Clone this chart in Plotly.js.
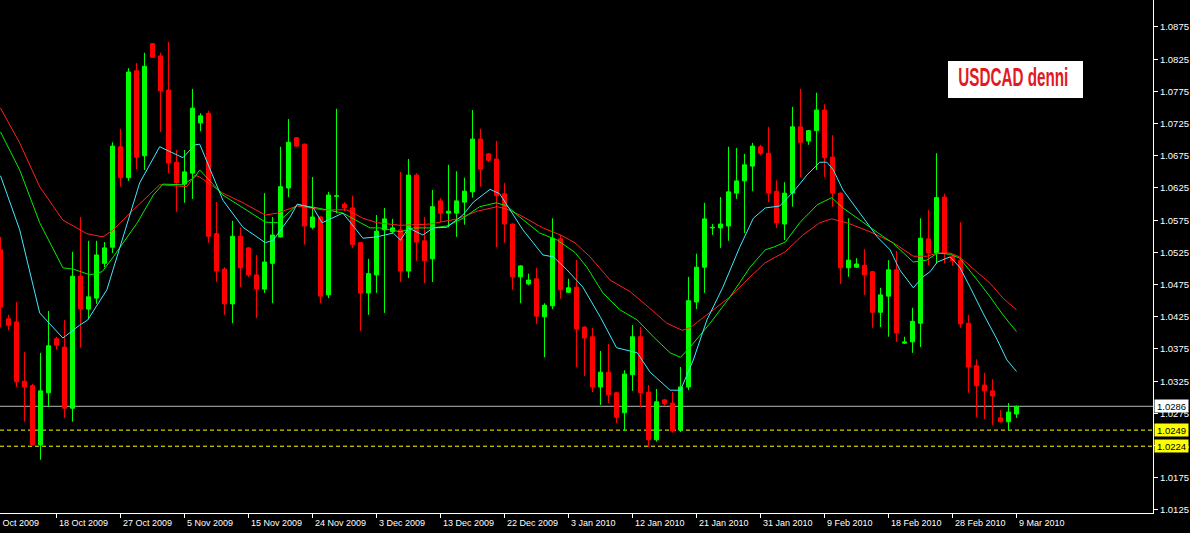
<!DOCTYPE html>
<html>
<head>
<meta charset="utf-8">
<script src="https://cdn.plot.ly/plotly-3.0.1.min.js"></script>
<style>
html,body{margin:0;padding:0;background:#000;}
#chart{width:1190px;height:533px;}
</style>
</head>
<body>
<div id="chart"></div>
<script>
// ---- Daily USDCAD candles (bar index 0..127) ----
const openArr = [1.0529,1.0422,1.0417,1.0325,1.0318,1.0226,1.0307,1.0391,1.0378,1.0283,
1.0488,1.0437,1.0454,1.0508,1.0533,1.0689,1.0641,1.0807,1.0675,1.0849,
1.0830,1.0777,1.0665,1.0631,1.0648,1.0726,1.0741,1.0554,1.0499,1.0445,
1.0550,1.0532,1.0490,1.0468,1.0508,1.0549,1.0625,1.0703,1.0693,1.0564,
1.0580,1.0459,1.0612,1.0600,1.0594,1.0540,1.0462,1.0490,1.0560,1.0557,
1.0560,1.0496,1.0645,1.0543,1.0515,1.0605,1.0586,1.0586,1.0603,1.0619,
1.0701,1.0678,1.0670,1.0616,1.0569,1.0487,1.0476,1.0484,1.0425,1.0442,
1.0546,1.0463,1.0471,1.0409,1.0394,1.0316,1.0339,1.0307,1.0276,1.0335,
1.0394,1.0308,1.0234,1.0296,1.0291,1.0249,1.0316,1.0448,1.0502,1.0563,
1.0563,1.0566,1.0617,1.0636,1.0659,1.0689,1.0679,1.0620,1.0569,1.0617,
1.0720,1.0698,1.0714,1.0746,1.0673,1.0617,1.0501,1.0502,1.0505,1.0495,
1.0432,1.0457,1.0498,1.0384,1.0386,1.0415,1.0546,1.0524,1.0611,1.0519,
1.0513,1.0415,1.0349,1.0319,1.0310,1.0268,1.0262,1.0274];
const highArr = [1.0549,1.0428,1.0448,1.0370,1.0321,1.0369,1.0434,1.0394,1.0420,1.0526,
1.0580,1.0543,1.0543,1.0541,1.0696,1.0717,1.0811,1.0819,1.0835,1.0850,
1.0835,1.0852,1.0684,1.0684,1.0779,1.0741,1.0745,1.0603,1.0502,1.0574,
1.0564,1.0533,1.0521,1.0617,1.0580,1.0689,1.0732,1.0704,1.0694,1.0642,
1.0581,1.0619,1.0748,1.0603,1.0613,1.0541,1.0515,1.0583,1.0594,1.0577,
1.0650,1.0670,1.0648,1.0580,1.0622,1.0609,1.0661,1.0651,1.0641,1.0746,
1.0717,1.0679,1.0698,1.0633,1.0570,1.0505,1.0492,1.0501,1.0446,1.0578,
1.0552,1.0484,1.0513,1.0410,1.0408,1.0372,1.0383,1.0308,1.0342,1.0412,
1.0409,1.0319,1.0313,1.0297,1.0308,1.0347,1.0487,1.0523,1.0602,1.0569,
1.0611,1.0689,1.0687,1.0678,1.0695,1.0692,1.0720,1.0637,1.0634,1.0751,
1.0779,1.0715,1.0773,1.0755,1.0707,1.0618,1.0578,1.0516,1.0530,1.0496,
1.0470,1.0513,1.0527,1.0394,1.0439,1.0578,1.0591,1.0679,1.0616,1.0520,
1.0572,1.0428,1.0359,1.0338,1.0328,1.0280,1.0291,1.0287];
const lowArr = [1.0409,1.0404,1.0316,1.0262,1.0225,1.0203,1.0285,1.0374,1.0268,1.0262,
1.0377,1.0422,1.0445,1.0502,1.0524,1.0627,1.0636,1.0654,1.0653,1.0827,
1.0712,1.0648,1.0588,1.0602,1.0608,1.0713,1.0540,1.0479,1.0428,1.0415,
1.0471,1.0487,1.0423,1.0462,1.0446,1.0548,1.0611,1.0689,1.0537,1.0561,
1.0446,1.0454,1.0586,1.0589,1.0532,1.0403,1.0428,1.0462,1.0431,1.0555,
1.0479,1.0485,1.0512,1.0477,1.0479,1.0572,1.0564,1.0549,1.0568,1.0610,
1.0627,1.0665,1.0533,1.0540,1.0467,1.0446,1.0474,1.0414,1.0362,1.0437,
1.0453,1.0462,1.0347,1.0333,1.0308,1.0288,1.0291,1.0260,1.0248,1.0310,
1.0285,1.0223,1.0231,1.0287,1.0245,1.0246,1.0311,1.0437,1.0462,1.0552,
1.0532,1.0543,1.0608,1.0555,1.0620,1.0676,1.0603,1.0563,1.0544,1.0596,
1.0642,1.0692,1.0653,1.0642,1.0596,1.0476,1.0487,1.0501,1.0459,1.0408,
1.0409,1.0394,1.0386,1.0383,1.0369,1.0378,1.0505,1.0508,1.0508,1.0504,
1.0408,1.0307,1.0269,1.0266,1.0257,1.0261,1.0249,1.0268];
const closeArr = [1.0440,1.0412,1.0324,1.0316,1.0226,1.0310,1.0380,1.0381,1.0283,1.0488,
1.0437,1.0456,1.0521,1.0532,1.0690,1.0641,1.0805,1.0673,1.0814,1.0828,
1.0776,1.0664,1.0633,1.0650,1.0749,1.0737,1.0550,1.0496,1.0445,1.0550,
1.0501,1.0490,1.0468,1.0510,1.0552,1.0627,1.0696,1.0690,1.0566,1.0580,
1.0457,1.0614,1.0613,1.0594,1.0537,1.0462,1.0492,1.0558,1.0577,1.0563,
1.0496,1.0645,1.0541,1.0512,1.0596,1.0586,1.0589,1.0605,1.0620,1.0701,
1.0654,1.0668,1.0613,1.0569,1.0487,1.0504,1.0482,1.0426,1.0443,1.0547,
1.0467,1.0470,1.0406,1.0392,1.0316,1.0339,1.0304,1.0269,1.0336,1.0394,
1.0307,1.0234,1.0293,1.0290,1.0248,1.0316,1.0450,1.0502,1.0577,1.0564,
1.0569,1.0619,1.0636,1.0661,1.0690,1.0679,1.0617,1.0571,1.0617,1.0720,
1.0696,1.0714,1.0746,1.0672,1.0617,1.0501,1.0513,1.0507,1.0490,1.0432,
1.0459,1.0498,1.0400,1.0386,1.0418,1.0547,1.0524,1.0610,1.0524,1.0512,
1.0414,1.0347,1.0318,1.0310,1.0302,1.0262,1.0277,1.0286];

// ---- Moving averages (fast = aqua, medium = lime, slow = red) ----
const cyanBars = [0,2.4,4.9,7.8,9.9,10.9,13.3,15.3,17.4,19.9,20.8,22.8,24.3,24.9,27.8,30.3,33.1,34.1,36.2,37.1,
39.1,40.2,42.8,45.3,47,49.1,50,51,52.8,54.1,55.8,57.8,59.1,61.2,62.4,63.7,65.3,67.8,69.1,70.8,
72.8,75,77,79.6,81.2,83.7,85,86.6,88.3,90.3,92.4,94.1,95.6,97.4,99.1,100.8,102.4,103.3,104.1,105.3,
107.4,109.6,111.2,112.4,114.1,115.3,116.2,117.1,118.7,119.9,121.2,122.8,124.6,125.8,127];
const cyanVals = [1.0644,1.0560,1.0431,1.0392,1.0412,1.0420,1.0467,1.0549,1.0633,1.0689,1.0684,1.0672,1.0692,1.0693,1.0606,1.0564,1.0540,1.0544,1.0580,1.0600,
1.0594,1.0571,1.0586,1.0547,1.0549,1.0555,1.0544,1.0563,1.0552,1.0563,1.0564,1.0583,1.0603,1.0623,1.0616,1.0591,1.0560,1.0521,1.0518,1.0498,
1.0471,1.0424,1.0377,1.0369,1.0339,1.0311,1.0311,1.0358,1.0420,1.0471,1.0533,1.0578,1.0594,1.0597,1.0619,1.0645,1.0665,1.0665,1.0653,1.0622,
1.0586,1.0549,1.0529,1.0498,1.0470,1.0487,1.0495,1.0510,1.0518,1.0502,1.0471,1.0431,1.0389,1.0358,1.0340];
const greenBars = [0,2.4,4.9,7.8,9.1,11.2,12.7,14.1,17.1,19.1,20.3,22.8,24.3,24.9,27.8,30.3,33.1,34.6,37.1,39.6,
42.8,45,46.2,47.4,50,51.6,54,55.8,57.8,59.9,62,63.3,64.9,67.4,69.6,71.8,73.3,75.3,77.4,79.6,
81.6,83.7,85,86.2,88.7,91.2,93.7,95.6,96.6,98.1,99.9,102.1,103.9,105.3,107.4,109.6,111.6,114.1,115.8,117.1,
118.7,119.9,122.1,123.7,125.3,127];
const greenVals = [1.0712,1.0653,1.0571,1.0501,1.0499,1.0490,1.0495,1.0518,1.0571,1.0614,1.0631,1.0630,1.0642,1.0653,1.0614,1.0594,1.0572,1.0571,1.0599,1.0594,
1.0586,1.0571,1.0563,1.0563,1.0557,1.0563,1.0563,1.0566,1.0578,1.0596,1.0602,1.0597,1.0580,1.0555,1.0544,1.0525,1.0502,1.0462,1.0436,1.0420,
1.0394,1.0369,1.0362,1.0378,1.0415,1.0456,1.0502,1.0529,1.0533,1.0541,1.0571,1.0599,1.0610,1.0594,1.0575,1.0556,1.0539,1.0510,1.0513,1.0524,
1.0522,1.0516,1.0482,1.0456,1.0428,1.0402];
const redBars = [0,2.4,4.9,7.8,10.8,12.8,14.1,16.6,19.9,23.3,24.3,24.9,27.8,30.3,33.1,34.6,37.1,40.3,43.3,45.3,
47.1,50,53.7,57.1,59.6,62.1,63.3,64.9,67.8,70,71.8,73.7,76.2,78.7,80.8,83.3,85.2,86.2,88.7,91.2,
93.7,95.6,98.1,100.3,102.4,103.9,105.8,108.7,111.6,114.1,115.8,117.1,118.7,119.9,122.1,123.7,125.3,127];
const redVals = [1.0749,1.0695,1.0627,1.0575,1.0554,1.0549,1.0560,1.0591,1.0630,1.0627,1.0645,1.0642,1.0617,1.0602,1.0583,1.0586,1.0597,1.0591,1.0591,1.0578,
1.0571,1.0567,1.0569,1.0577,1.0589,1.0596,1.0592,1.0583,1.0563,1.0552,1.0540,1.0518,1.0482,1.0464,1.0442,1.0415,1.0404,1.0408,1.0432,1.0456,
1.0487,1.0509,1.0526,1.0552,1.0571,1.0577,1.0571,1.0557,1.0540,1.0519,1.0519,1.0524,1.0524,1.0518,1.0494,1.0477,1.0454,1.0436];

// ---- Axis labels ----
const dateLabelBars = [-1,7,15,23,31,39,47,55,63,71,79,87,95,103,111,119,127];
const dateLabels = ["8 Oct 2009","18 Oct 2009","27 Oct 2009","5 Nov 2009","15 Nov 2009","24 Nov 2009",
  "3 Dec 2009","13 Dec 2009","22 Dec 2009","3 Jan 2010","12 Jan 2010","21 Jan 2010","31 Jan 2010",
  "9 Feb 2010","18 Feb 2010","28 Feb 2010","9 Mar 2010"];
const priceTicks = [1.0125,1.0175,1.0225,1.0275,1.0325,1.0375,1.0425,1.0475,1.0525,1.0575,1.0625,1.0675,1.0725,1.0775,1.0825,1.0875];
const priceTickLabels = priceTicks.map(v => v.toFixed(4));

// ---- Horizontal levels ----
const currentPrice = 1.0286;
const levelPrices = [1.0249, 1.0224];
const chartTitle = "USDCAD denni";

// ---- Build traces ----
const UP = '#00ff00', DOWN = '#ff0000';
const idx = openArr.map((_, i) => i);
function bodyTrace(up) {
  const xs = [], base = [], h = [];
  idx.forEach(i => {
    const o = openArr[i], c = closeArr[i];
    if ((c >= o) === up) {
      xs.push(i);
      base.push(Math.min(o, c));
      h.push(Math.max(Math.abs(c - o), 0.00008));
    }
  });
  const col = up ? UP : DOWN;
  return {type:'bar', x:xs, y:h, base:base, width:0.5,
    marker:{color:col, line:{color:col, width:1}}, hoverinfo:'skip', showlegend:false};
}
function wickTrace(up) {
  const xs = [], ys = [];
  idx.forEach(i => {
    if ((closeArr[i] >= openArr[i]) === up) {
      xs.push(i, i, null);
      ys.push(lowArr[i], highArr[i], null);
    }
  });
  return {type:'scatter', mode:'lines', x:xs, y:ys, line:{color: up ? UP : DOWN, width:1},
    hoverinfo:'skip', showlegend:false};
}
const maTrace = (xs, ys, col) => ({type:'scatter', mode:'lines', x:xs, y:ys,
  line:{color:col, width:1}, hoverinfo:'skip', showlegend:false});

const traces = [
  bodyTrace(true), bodyTrace(false),
  wickTrace(true), wickTrace(false),
  maTrace(redBars, redVals, '#ff2020'),
  maTrace(greenBars, greenVals, '#00ee00'),
  maTrace(cyanBars, cyanVals, '#40e8ff')
];

// pixel geometry: plot 1153 x 513, 8 px per bar
const PLOT_W = 1153, PLOT_H = 513, PX_PER_BAR = 8;
const xRange = [-0.0625, -0.0625 + PLOT_W / PX_PER_BAR];
const yRange = [1.01203, 1.09169];

const tickFont = {family:'Liberation Sans, Arial, sans-serif', size:9.5, color:'#ffffff'};
const dateFont = {family:'Liberation Sans, Arial, sans-serif', size:9, color:'#ffffff'};

const annotations = dateLabels.map((t, j) => {
  const b = dateLabelBars[j];
  const inside = b >= xRange[0];
  return {xref:'x', yref:'paper', x: inside ? b : 0, xshift: inside ? 0 : (b - 0) * PX_PER_BAR,
    y:0, yshift:-9.5, xanchor:'left', yanchor:'middle', text:t, showarrow:false, font:dateFont};
});
annotations.push({xref:'paper', yref:'y', x:1, y:currentPrice, xanchor:'left', yanchor:'middle', xshift:1,
  text:currentPrice.toFixed(4), showarrow:false, bgcolor:'#ffffff', borderpad:0, width:33, height:12, align:'center',
  font:{family:tickFont.family, size:9.5, color:'#000000'}});
levelPrices.forEach(p => annotations.push({xref:'paper', yref:'y', x:1, y:p, xanchor:'left', yanchor:'middle', xshift:1,
  text:p.toFixed(4), showarrow:false, bgcolor:'#ffff00', borderpad:0, width:33, height:12, align:'center',
  font:{family:tickFont.family, size:9.5, color:'#000000'}}));
annotations.push({xref:'paper', yref:'paper', x:1013/PLOT_W, y:1 - 77.5/PLOT_H, xanchor:'center', yanchor:'middle',
  text:chartTitle, showarrow:false,
  font:{family:'Liberation Sans, Arial, sans-serif', size:25, weight:700, color:'#e01a22'}});

const shapes = [
  {type:'line', xref:'paper', yref:'y', x0:0, x1:1, y0:currentPrice, y1:currentPrice, line:{color:'#b8b8b8', width:1}, layer:'below'},
  ...levelPrices.map(p => ({type:'line', xref:'paper', yref:'y', x0:0, x1:1, y0:p, y1:p,
    line:{color:'#ffff00', width:1, dash:'4px,3px'}, layer:'below'})),
  {type:'rect', xref:'paper', yref:'paper', x0:948/PLOT_W, x1:1083/PLOT_W, y0:1 - 98/PLOT_H, y1:1 - 61/PLOT_H,
    fillcolor:'#ffffff', line:{width:0}, layer:'above'}
];

const layout = {
  width:1190, height:533,
  margin:{l:0, r:1190 - PLOT_W, t:0, b:533 - PLOT_H, pad:0},
  paper_bgcolor:'#000000', plot_bgcolor:'#000000',
  showlegend:false, barmode:'overlay', bargap:0,
  xaxis:{range:xRange, showgrid:false, zeroline:false, showline:true, linecolor:'#ffffff', linewidth:1,
    ticks:'outside', ticklen:4, tickcolor:'#ffffff', tickvals:dateLabelBars.filter(b => b >= 0),
    showticklabels:false, fixedrange:true},
  yaxis:{range:yRange, side:'right', showgrid:false, zeroline:false, showline:true, linecolor:'#ffffff', linewidth:1,
    ticks:'outside', ticklen:4, tickcolor:'#ffffff', tickvals:priceTicks, ticktext:priceTickLabels,
    tickfont:tickFont, fixedrange:true},
  annotations:annotations, shapes:shapes
};

Plotly.newPlot('chart', traces, layout, {displayModeBar:false, staticPlot:true}).then(() => {
  // condense the title glyphs horizontally (the original uses a narrow bold face)
  document.querySelectorAll('.annotation-text').forEach(n => {
    if (n.textContent === chartTitle) {
      n.setAttribute('textLength', '110');
      n.setAttribute('lengthAdjust', 'spacingAndGlyphs');
    }
  });
});
</script>
</body>
</html>
